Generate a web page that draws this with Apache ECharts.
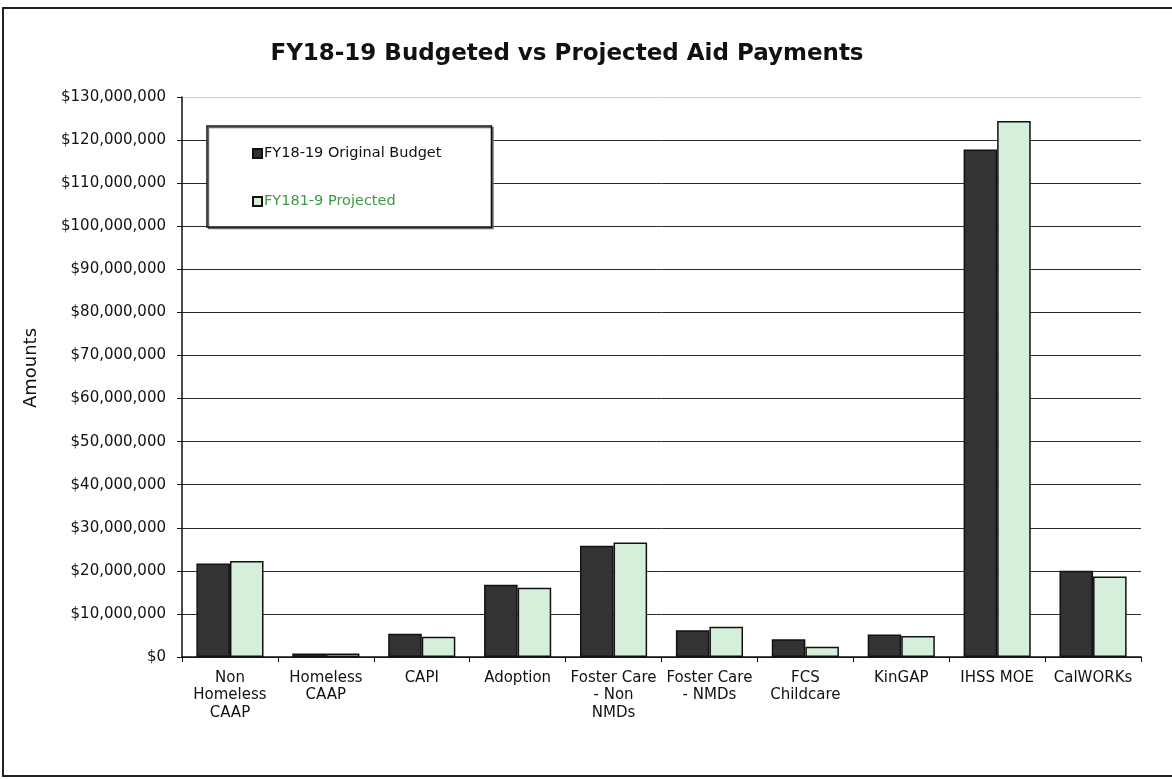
<!DOCTYPE html>
<html>
<head>
<meta charset="utf-8">
<script src="https://cdn.jsdelivr.net/npm/echarts@6/dist/echarts.min.js"></script>
<style>
  html, body { margin: 0; padding: 0; background: #fff; }
  #myChart { width: 1172px; height: 779px; }
</style>
</head>
<body>
<div id="myChart"></div>
<script>
// categories along x
var categories = ['Non\nHomeless\nCAAP', 'Homeless\nCAAP', 'CAPI', 'Adoption', 'Foster Care\n- Non\nNMDs',
  'Foster Care\n- NMDs', 'FCS\nChildcare', 'KinGAP', 'IHSS MOE', 'CalWORKs'];
// values in dollars
var originalBudget = [21700000, 800000, 5400000, 16800000, 25800000, 6200000, 4100000, 5200000, 117800000, 20000000];
var projected = [22300000, 800000, 4700000, 16100000, 26600000, 7000000, 2400000, 4900000, 124400000, 18700000];
var yTicks = { min: 0, max: 130000000, interval: 10000000 };

var myChart = echarts.init(document.getElementById('myChart'));

// split line colours, last one (top) is faint like the scan
var gridColors = [];
for (var i = 0; i < 14; i++) gridColors.push(i === 13 ? '#cfcfcf' : '#2a2a2a');

myChart.setOption({
  backgroundColor: '#fff',
  textStyle: { fontFamily: 'DejaVu Sans, Liberation Sans, sans-serif' },
  title: {
    text: 'FY18-19 Budgeted vs Projected Aid Payments',
    left: 562,
    top: 38,
    textAlign: 'center',
    textStyle: { fontSize: 23, fontWeight: 'bold', color: '#111', fontFamily: 'DejaVu Sans' }
  },
  legend: {
    orient: 'vertical',
    left: 207,
    top: 126,
    padding: [20, 50, 18, 45],
    itemGap: 33,
    itemWidth: 9,
    itemHeight: 9,
    icon: 'rect',
    borderColor: '#111',
    borderWidth: 1.5,
    shadowColor: '#666',
    shadowOffsetX: 1.5,
    shadowOffsetY: 1.5,
    backgroundColor: '#fff',
    textStyle: { fontSize: 14.5, padding: [0, 0, 0, -3] },
    data: [
      { name: 'FY18-19 Original Budget', textStyle: { color: '#111' } },
      { name: 'FY181-9 Projected', textStyle: { color: '#3c9a45' } }
    ]
  },
  grid: { left: 182, right: 31, top: 97, bottom: 122 },
  xAxis: {
    type: 'category',
    data: categories,
    axisLine: { lineStyle: { color: '#111', width: 1.5 } },
    axisTick: { show: true, length: 5, lineStyle: { color: '#111' } },
    axisLabel: { color: '#111', fontSize: 15, lineHeight: 17.5, margin: 12, interval: 0 }
  },
  yAxis: {
    type: 'value',
    min: yTicks.min,
    max: yTicks.max,
    interval: yTicks.interval,
    name: 'Amounts',
    nameLocation: 'middle',
    nameGap: 142,
    nameTextStyle: { fontSize: 18, color: '#111', padding: [0, 0, 0, 18] },
    axisLine: { show: true, lineStyle: { color: '#111', width: 1.5 } },
    axisTick: { show: true, length: 5, lineStyle: { color: '#111' } },
    axisLabel: {
      color: '#111',
      fontSize: 15,
      margin: 16,
      formatter: function (v) { return '$' + v.toLocaleString('en-US'); }
    },
    splitLine: { lineStyle: { color: gridColors, width: 1 } }
  },
  series: [
    {
      name: 'FY18-19 Original Budget',
      type: 'bar',
      data: originalBudget,
      barGap: '0%',
      barCategoryGap: '30%',
      itemStyle: { color: '#333333', borderColor: '#111', borderWidth: 1.5 }
    },
    {
      name: 'FY181-9 Projected',
      type: 'bar',
      data: projected,
      itemStyle: { color: '#d6efdb', borderColor: '#111', borderWidth: 1.5 }
    }
  ],
  graphic: [
    { type: 'polyline', silent: true, shape: { points: [[1172, 8], [3, 8], [3, 776], [1172, 776]] },
      style: { stroke: '#222', lineWidth: 2, fill: null } }
  ]
});
</script>
</body>
</html>
